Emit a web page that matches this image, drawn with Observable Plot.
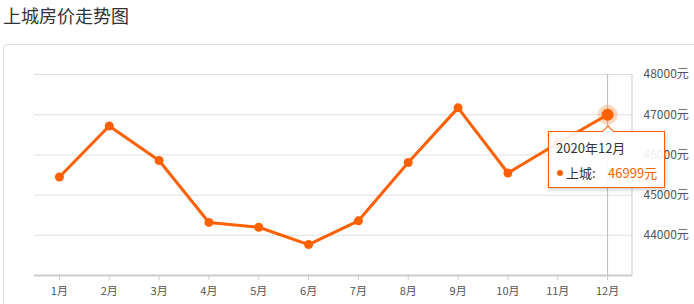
<!DOCTYPE html>
<html><head><meta charset="utf-8">
<script src="https://cdn.jsdelivr.net/npm/d3@7"></script>
<script src="https://cdn.jsdelivr.net/npm/@observablehq/plot@0.6"></script>
<style>
body{margin:0;background:#fff;font-family:"Noto Sans CJK SC","Noto Sans",sans-serif;}
#wrap{position:relative;width:694px;height:304px;overflow:hidden;}
#title{position:absolute;left:3px;top:3px;font-size:18px;color:#333;line-height:24px;white-space:nowrap;}
#panel{position:absolute;left:3px;top:44px;width:720px;height:320px;border:1px solid #ddd;border-radius:4px;box-sizing:border-box;}
#chart{position:absolute;left:0;top:0;}
#tip{position:absolute;width:117px;height:57px;box-sizing:border-box;border:1px solid #ff6000;background:rgba(255,255,255,0.9);box-shadow:1px 2px 4px rgba(0,0,0,0.18);font-size:13px;line-height:20px;color:#333;}
#tip .notch{position:absolute;width:7px;height:7px;background:#fff;border-left:1px solid #ff6000;border-top:1px solid #ff6000;transform:rotate(45deg);top:-5px;}
#tip span{position:absolute;white-space:nowrap;}
#tip .dot{width:6px;height:6px;border-radius:50%;background:#ff6000;}
</style>
</head><body>
<div id="wrap">
  <div id="title"></div>
  <div id="panel"></div>
  <div id="chart"></div>
  <div id="tip"></div>
</div>
<script>
const titleText = "上城房价走势图";
const months = ["1月","2月","3月","4月","5月","6月","7月","8月","9月","10月","11月","12月"];
const prices = [45450, 46720, 45860, 44320, 44200, 43770, 44360, 45810, 47170, 45550, 46290, 46999];
const yTicks = [44000, 45000, 46000, 47000, 48000];
const yDomain = [43000, 48000];
const seriesName = "上城";
const tipDate = "2020年12月";
const highlightMonth = "12月";
const unit = "元";

const data = months.map((m, i) => ({month: m, price: prices[i]}));
const hi = data.filter(d => d.month === highlightMonth);
const orange = "#ff6000";

document.getElementById("title").textContent = titleText;

const chart = Plot.plot({
  width: 694, height: 304,
  marginLeft: 34, marginRight: 62, marginTop: 74, marginBottom: 29,
  style: {fontSize: "11px", fontFamily: '"Noto Sans CJK SC","Noto Sans",sans-serif', color: "#555", background: "transparent"},
  x: {type: "point", domain: months, padding: 0.5, round: false},
  y: {domain: yDomain},
  marks: [
    Plot.ruleY(yTicks, {stroke: "#e0e0e0"}),
    Plot.ruleY([yDomain[0]], {stroke: "#ccc", strokeWidth: 2}),
    Plot.axisX({tickSize: 5, tickPadding: 7, stroke: "#ccc", fill: "#555", label: null}),
    Plot.axisY({anchor: "right", ticks: yTicks, tickSize: 0, tickPadding: 11, tickFormat: d => d + unit, fill: "#555", fontSize: 12, label: null}),
    Plot.ruleX([highlightMonth], {stroke: "#bbb"}),
    Plot.line(data, {x: "month", y: "price", stroke: orange, strokeWidth: 3}),
    Plot.dot(data, {x: "month", y: "price", r: 4.5, fill: orange}),
    Plot.dot(hi, {x: "month", y: "price", r: 10, fill: orange, fillOpacity: 0.25}),
    Plot.dot(hi, {x: "month", y: "price", r: 6, fill: orange})
  ]
});
document.getElementById("chart").appendChild(chart);

// right edge line of the plot area
const xs = chart.scale("x"), ys = chart.scale("y");
const xr = xs.range[1];
d3.select(chart).append("line")
  .attr("x1", xr).attr("x2", xr)
  .attr("y1", ys.apply(yDomain[1])).attr("y2", ys.apply(yDomain[0]))
  .attr("stroke", "#ccc");

// tooltip
const px = xs.apply(highlightMonth), py = ys.apply(hi[0].price);
const tip = document.getElementById("tip");
tip.style.left = (px - 59) + "px";
tip.style.top = (py + 17) + "px";
tip.innerHTML = `<div class="notch" style="left:${55}px"></div>
<span style="left:7px;top:6px">${tipDate}</span>
<span class="dot" style="left:8px;top:38px"></span>
<span style="left:17px;top:31px">${seriesName}:</span>
<span style="left:59px;top:31px;color:${orange}">${hi[0].price}${unit}</span>`;
</script>
</body></html>
